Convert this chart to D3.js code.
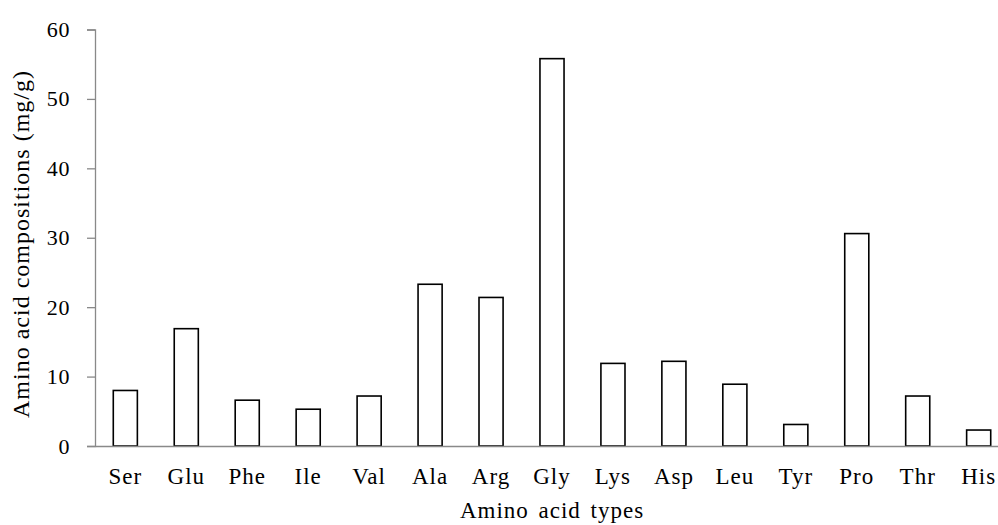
<!DOCTYPE html>
<html>
<head>
<meta charset="utf-8">
<script src="https://cdn.jsdelivr.net/npm/d3@7"></script>
<style>
  body { margin: 0; background: #fff; }
  text { font-family: "Liberation Serif", "Times New Roman", serif; fill: #000; }
</style>
</head>
<body>
<svg id="chart" width="998" height="525"></svg>
<script>
// amino acid data (mg/g)
var aminoAcids = ["Ser", "Glu", "Phe", "Ile", "Val", "Ala", "Arg", "Gly", "Lys", "Asp", "Leu", "Tyr", "Pro", "Thr", "His"]
var compositions = [8.0, 16.9, 6.6, 5.3, 7.2, 23.3, 21.4, 55.8, 11.9, 12.2, 8.9, 3.1, 30.6, 7.2, 2.3]
var yTicks = [0, 10, 20, 30, 40, 50, 60]

var svg = d3.select("#chart")
var margin = {left: 95, right: 1009, top: 29.5, bottom: 446}

var xScale = d3.scaleBand().domain(aminoAcids).range([margin.left, margin.right]).paddingInner(0.605).paddingOuter(0.3)
var yScale = d3.scaleLinear().domain([0, 60]).range([margin.bottom, margin.top])

var dataset = aminoAcids.map((a, i) => ({name: a, value: compositions[i]}))

// bars
svg.selectAll(".bar")
    .data(dataset)
    .enter().append("rect")
    .attr("class", "bar")
    .attr("x", d => xScale(d.name))
    .attr("y", d => yScale(d.value))
    .attr("width", xScale.bandwidth())
    .attr("height", d => yScale(0) - yScale(d.value))
    .attr("fill", "#fff")
    .attr("stroke", "#000")
    .attr("stroke-width", 1.6)

// y axis
var yAxis = d3.axisLeft(yScale).tickValues(yTicks).tickSize(8).tickPadding(17)
var gy = svg.append("g").attr("transform", "translate(" + margin.left + ",0)").call(yAxis)
gy.select(".domain").attr("stroke", "#898989").attr("stroke-width", 1.3)
gy.selectAll(".tick line").attr("stroke", "#898989").attr("stroke-width", 1.3)
gy.selectAll(".tick text").attr("font-size", 22).attr("letter-spacing", 0.6).attr("font-family", "Liberation Serif")

// x axis
var xAxis = d3.axisBottom(xScale).tickSize(0).tickPadding(22).tickSizeOuter(0)
var gx = svg.append("g").attr("transform", "translate(0," + margin.bottom + ")").call(xAxis)
gx.select(".domain").attr("stroke", "#898989").attr("stroke-width", 1.3)
gx.selectAll(".tick text")
    .attr("font-size", 23)
    .attr("letter-spacing", 1)
    .attr("dy", "0.71em")
    .attr("font-family", "Liberation Serif")

// axis titles
svg.append("text")
    .attr("text-anchor", "middle")
    .attr("font-size", 23)
    .attr("letter-spacing", 1)
    .attr("word-spacing", 3)
    .attr("transform", "translate(" + ((margin.left + margin.right) / 2) + ",518)")
    .text("Amino acid types")

svg.append("text")
    .attr("text-anchor", "middle")
    .attr("font-size", 24)
    .attr("letter-spacing", 1)
    .attr("transform", "translate(28.5,244) rotate(-90)")
    .text("Amino acid compositions (mg/g)")
</script>
</body>
</html>
